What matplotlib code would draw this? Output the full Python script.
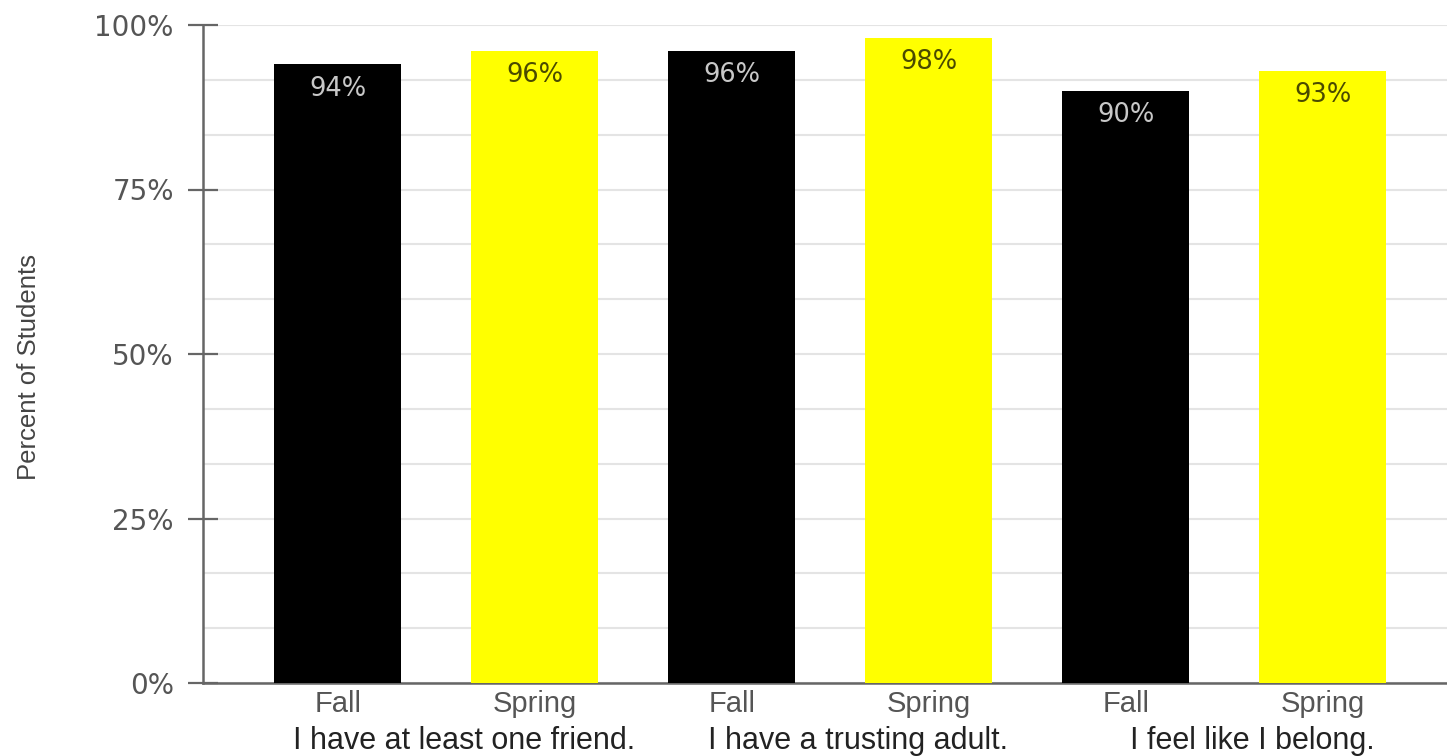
import matplotlib
matplotlib.use("Agg")
import matplotlib.pyplot as plt
import numpy as np

# Data
questions = ["I have at least one friend.", "I have a trusting adult.", "I feel like I belong."]
terms = ["Fall", "Spring"]
fall_values = [94, 96, 90]
spring_values = [96, 98, 93]

bar_colors = {"Fall": "#000000", "Spring": "#ffff00"}
label_colors = {"Fall": "#c8c8c8", "Spring": "#4a4a00"}

# Interleave Fall / Spring per question
values = []
tick_labels = []
colors = []
for f, s in zip(fall_values, spring_values):
    values += [f, s]
    tick_labels += terms
    colors += [bar_colors["Fall"], bar_colors["Spring"]]
x = np.arange(len(values))

fig = plt.figure(figsize=(14.47, 7.56), dpi=100)
ax = fig.add_axes([203 / 1447, 73 / 756, 1 - 203 / 1447, 658 / 756])

ax.bar(x, values, width=0.645, color=colors, zorder=3)

# Value labels inside bar tops
for xi, v, term in zip(x, values, tick_labels):
    ax.annotate(f"{v}%", (xi, v), xytext=(0, -8), textcoords="offset points",
                ha="center", va="top", fontsize=18.5, color=label_colors[term],
                family="DejaVu Sans")

ax.set_xlim(-0.685, 5.63)
ax.set_ylim(0, 100)

# Major ticks every 25%, grid every third of that
ax.set_yticks([0, 25, 50, 75, 100])
ax.set_yticklabels(["0%", "25%", "50%", "75%", "100%"])
ax.set_yticks(np.arange(0, 100.1, 25 / 3), minor=True)
ax.tick_params(axis="y", which="minor", length=0)
ax.tick_params(axis="y", which="major", direction="inout", length=22, width=1.6,
               color="#666666", labelsize=20, labelcolor="#555555", pad=10)
ax.grid(axis="y", which="both", color="#e4e4e4", linewidth=1.5, zorder=0)

ax.set_xticks(x)
ax.set_xticklabels(tick_labels, family="Liberation Sans", fontsize=21, color="#555555")
ax.tick_params(axis="x", length=0, pad=5)

for side in ["top", "right"]:
    ax.spines[side].set_visible(False)
for side in ["left", "bottom"]:
    ax.spines[side].set_color("#666666")
    ax.spines[side].set_linewidth(1.8)

# Group labels under each Fall/Spring pair
for i, q in enumerate(questions):
    ax.text(2 * i + 0.5 + 0.14, -8.8, q, ha="center", va="center",
            fontsize=22, color="#222222", family="Liberation Sans", clip_on=False)

ax.set_ylabel("Percent of Students", family=["Liberation Sans Narrow", "Liberation Sans"],
              fontsize=18.5, color="#444444")
ax.yaxis.set_label_coords(-0.13, 0.48)

fig.savefig("out.png", dpi=100)
